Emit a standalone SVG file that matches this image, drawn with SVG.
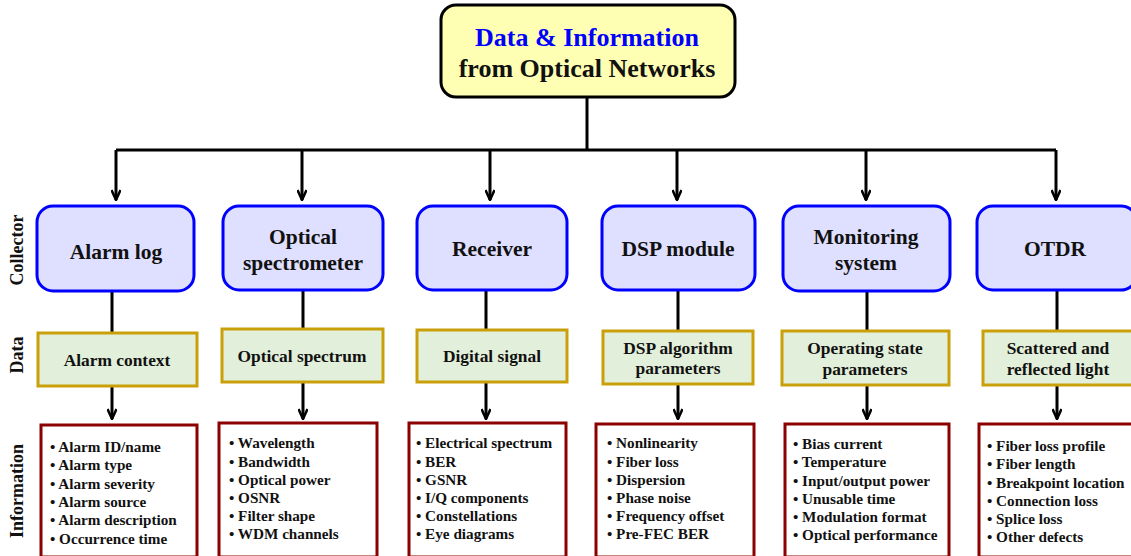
<svg xmlns="http://www.w3.org/2000/svg" width="1131" height="556" viewBox="0 0 1131 556">
<style>
text{font-family:'Liberation Serif','Times New Roman',serif;font-weight:bold;fill:#111}
.t{font-size:26px;text-anchor:middle}
.c{font-size:21.5px;text-anchor:middle}
.d{font-size:17.4px;text-anchor:middle}
.i{font-size:15.2px}
.s{font-size:18px;text-anchor:middle}
.top{fill:#ffffb3;stroke:#000;stroke-width:3}
.col{fill:#dfdfff;stroke:#0000ff;stroke-width:3}
.dat{fill:#e2efda;stroke:#c9a00a;stroke-width:3}
.inf{fill:#fff;stroke:#8b0000;stroke-width:3}
.ln{stroke:#000;stroke-width:3;fill:none}
</style>
<defs>
<marker id="ah" viewBox="0 0 12 10" refX="11" refY="5" markerWidth="12" markerHeight="10" markerUnits="userSpaceOnUse" orient="auto">
<path d="M1,0.5 L11,5 L1,9.5" fill="none" stroke="#000" stroke-width="2.5"/>
</marker>
</defs>
<g id="connectors">
<path class="ln" d="M587,97 V150 M116,150 H1056"/>
<path class="ln" d="M116,150 V200" marker-end="url(#ah)"/>
<path class="ln" d="M302,150 V200" marker-end="url(#ah)"/>
<path class="ln" d="M490,150 V200" marker-end="url(#ah)"/>
<path class="ln" d="M677,150 V200" marker-end="url(#ah)"/>
<path class="ln" d="M866,150 V200" marker-end="url(#ah)"/>
<path class="ln" d="M1056,150 V200" marker-end="url(#ah)"/>
<path class="ln" d="M112,292 V333 M303,291 V329 M486,291 V330 M678,291 V331 M867,291 V331 M1057,291 V331"/>
<path class="ln" d="M112,386 V419" marker-end="url(#ah)"/>
<path class="ln" d="M303,382 V419" marker-end="url(#ah)"/>
<path class="ln" d="M486,382 V419" marker-end="url(#ah)"/>
<path class="ln" d="M678,384 V419" marker-end="url(#ah)"/>
<path class="ln" d="M867,385 V419" marker-end="url(#ah)"/>
<path class="ln" d="M1057,385 V419" marker-end="url(#ah)"/>
</g>
<g id="title">
<rect class="top" x="441" y="5" width="294" height="92" rx="15"/>
<text class="t" x="587" y="46" style="fill:#0000ff">Data &amp; Information</text>
<text class="t" x="587" y="77">from Optical Networks</text>
</g>
<g id="labels">
<text class="s" transform="translate(23,250) rotate(-90)">Collector</text>
<text class="s" transform="translate(23,355) rotate(-90)">Data</text>
<text class="s" transform="translate(23,491) rotate(-90)">Information</text>
</g>
<g id="collector-alarm"><rect class="col" x="37" y="206" width="157" height="85" rx="16"/><text class="c" x="116" y="259">Alarm log</text></g>
<g id="collector-spectrometer"><rect class="col" x="223" y="206" width="160" height="84" rx="16"/><text class="c" x="303" y="244">Optical</text><text class="c" x="303" y="270">spectrometer</text></g>
<g id="collector-receiver"><rect class="col" x="417" y="206" width="150" height="84" rx="16"/><text class="c" x="492" y="256">Receiver</text></g>
<g id="collector-dsp"><rect class="col" x="602" y="206" width="153" height="84" rx="16"/><text class="c" x="678" y="256">DSP module</text></g>
<g id="collector-monitoring"><rect class="col" x="783" y="206" width="167" height="85" rx="16"/><text class="c" x="866" y="244">Monitoring</text><text class="c" x="866" y="270">system</text></g>
<g id="collector-otdr"><rect class="col" x="977" y="206" width="160" height="84" rx="16"/><text class="c" x="1055" y="256">OTDR</text></g>
<g id="data-alarm"><rect class="dat" x="38" y="333" width="159" height="53"/><text class="d" x="117" y="366">Alarm context</text></g>
<g id="data-spectrum"><rect class="dat" x="222" y="329" width="161" height="53"/><text class="d" x="302" y="362">Optical spectrum</text></g>
<g id="data-digital"><rect class="dat" x="417" y="330" width="150" height="52"/><text class="d" x="492" y="362">Digital signal</text></g>
<g id="data-dsp"><rect class="dat" x="603" y="331" width="150" height="53"/><text class="d" x="678" y="354">DSP algorithm</text><text class="d" x="678" y="374">parameters</text></g>
<g id="data-operating"><rect class="dat" x="782" y="331" width="167" height="54"/><text class="d" x="865" y="354">Operating state</text><text class="d" x="865" y="375">parameters</text></g>
<g id="data-scattered"><rect class="dat" x="983" y="331" width="160" height="54"/><text class="d" x="1058" y="354">Scattered and</text><text class="d" x="1058" y="375">reflected light</text></g>
<g id="info-alarm"><rect class="inf" x="41" y="425" width="156" height="132"/>
<text class="i" x="50" y="452">• Alarm ID/name</text><text class="i" x="50" y="470">• Alarm type</text><text class="i" x="50" y="488.5">• Alarm severity</text><text class="i" x="50" y="507">• Alarm source</text><text class="i" x="50" y="525">• Alarm description</text><text class="i" x="50" y="543.5">• Occurrence time</text></g>
<g id="info-spectrum"><rect class="inf" x="219" y="423" width="158" height="134"/>
<text class="i" x="229" y="448">• Wavelength</text><text class="i" x="229" y="466.5">• Bandwidth</text><text class="i" x="229" y="484.5">• Optical power</text><text class="i" x="229" y="503">• OSNR</text><text class="i" x="229" y="521">• Filter shape</text><text class="i" x="229" y="539">• WDM channels</text></g>
<g id="info-digital"><rect class="inf" x="409" y="423" width="157" height="134"/>
<text class="i" x="416" y="448">• Electrical spectrum</text><text class="i" x="416" y="466.5">• BER</text><text class="i" x="416" y="484.5">• GSNR</text><text class="i" x="416" y="503">• I/Q components</text><text class="i" x="416" y="521">• Constellations</text><text class="i" x="416" y="539">• Eye diagrams</text></g>
<g id="info-dsp"><rect class="inf" x="596" y="424" width="158" height="133"/>
<text class="i" x="607" y="448">• Nonlinearity</text><text class="i" x="607" y="466.5">• Fiber loss</text><text class="i" x="607" y="484.5">• Dispersion</text><text class="i" x="607" y="503">• Phase noise</text><text class="i" x="607" y="521">• Frequency offset</text><text class="i" x="607" y="539">• Pre-FEC BER</text></g>
<g id="info-operating"><rect class="inf" x="785" y="424" width="164" height="133"/>
<text class="i" x="793" y="449">• Bias current</text><text class="i" x="793" y="467">• Temperature</text><text class="i" x="793" y="485.5">• Input/output power</text><text class="i" x="793" y="504">• Unusable time</text><text class="i" x="793" y="522">• Modulation format</text><text class="i" x="793" y="540">• Optical performance</text></g>
<g id="info-otdr"><rect class="inf" x="979" y="424" width="160" height="133"/>
<text class="i" x="987" y="451">• Fiber loss profile</text><text class="i" x="987" y="469">• Fiber length</text><text class="i" x="987" y="487.5">• Breakpoint location</text><text class="i" x="987" y="506">• Connection loss</text><text class="i" x="987" y="524">• Splice loss</text><text class="i" x="987" y="542">• Other defects</text></g>
</svg>
